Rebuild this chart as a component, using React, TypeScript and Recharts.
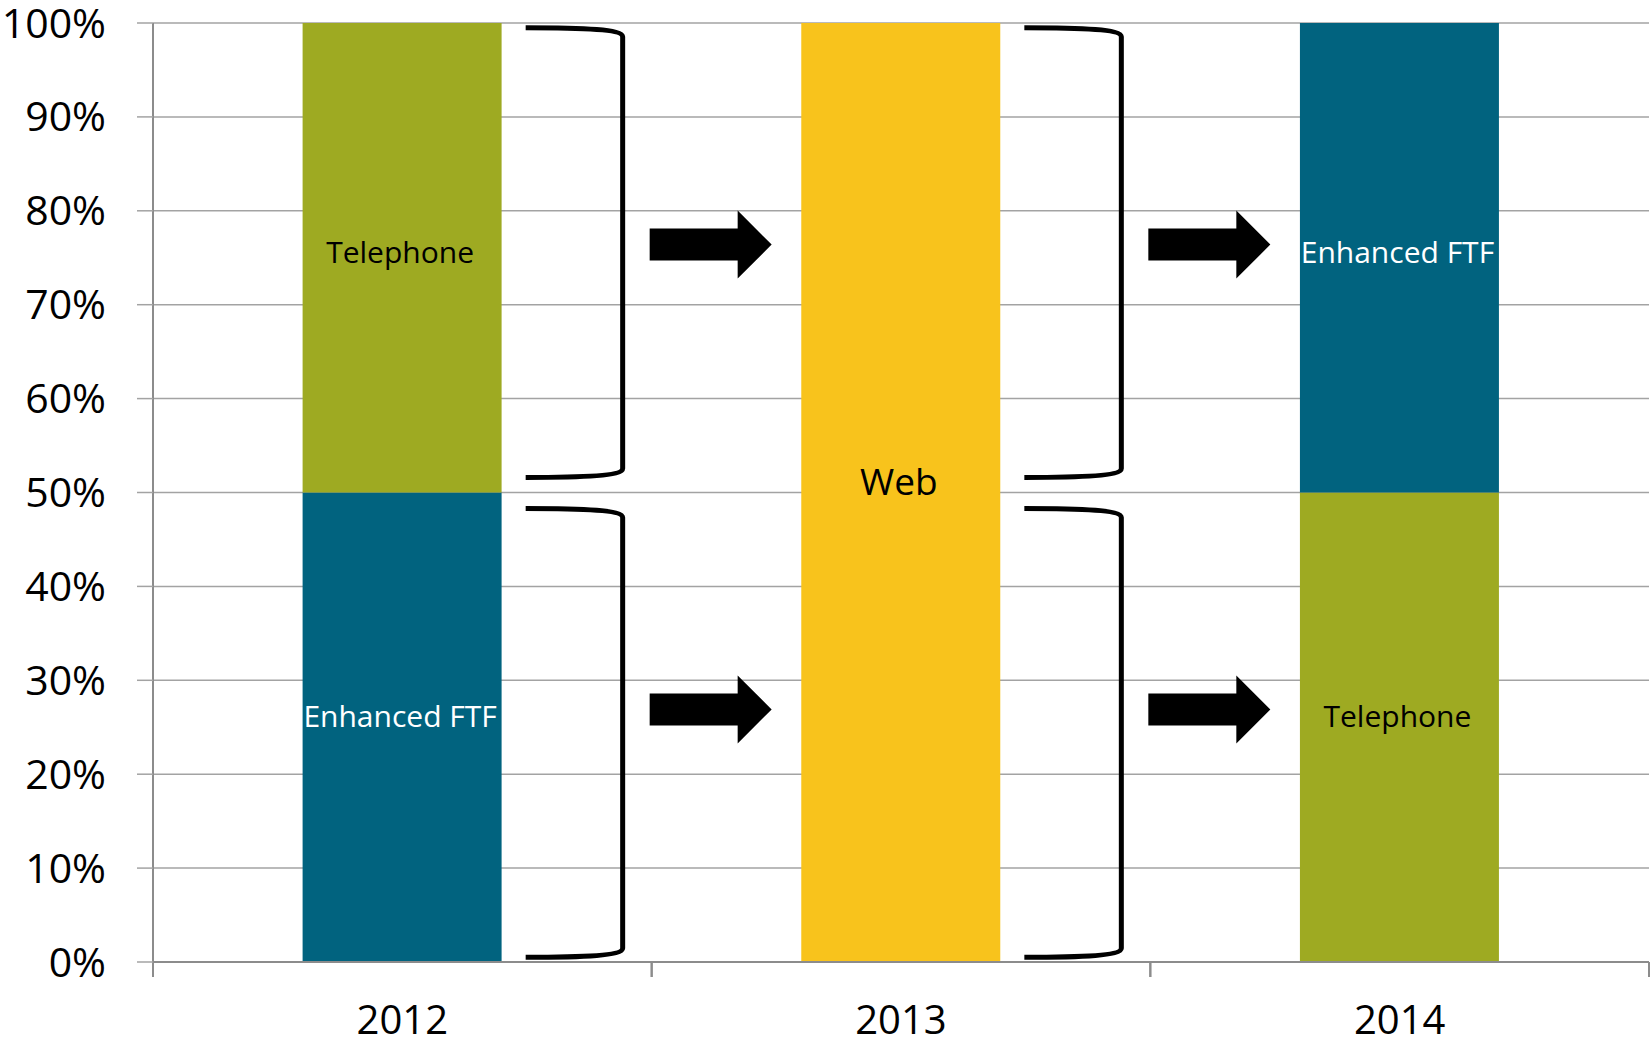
import { BarChart, Bar, XAxis, YAxis, CartesianGrid, Cell, LabelList, ReferenceArea } from "recharts";

const years = ["2012", "2013", "2014"];
const lowerMode = ["Enhanced FTF", "Web", "Telephone"];
const lowerShare = [50, 100, 50];
const upperMode = ["Telephone", "", "Enhanced FTF"];
const upperShare = [50, 0, 50];
const yTicks = [0, 10, 20, 30, 40, 50, 60, 70, 80, 90, 100];

// years followed by a bracket + arrow pointing at the next year
const transitionYears = ["2012", "2013"];
const bracketSpans = [
  [51.6, 99.5],
  [0.5, 48.3],
];
const arrowLevels = [76.4, 26.9];

const modeColor: Record<string, string> = {
  Telephone: "#9EAA22",
  "Enhanced FTF": "#01637F",
  Web: "#F8C31C",
};
const modeTextColor: Record<string, string> = {
  Telephone: "#000000",
  "Enhanced FTF": "#FFFFFF",
  Web: "#000000",
};

const data = years.map((year, i) => ({
  year,
  lower: lowerShare[i],
  upper: upperShare[i],
  lowerMode: lowerMode[i],
  upperMode: upperMode[i],
}));

const makeLabel = (lift: number) => (props: any) => {
  const { x, y, width, height, value } = props;
  if (!value || !height) return null;
  return (
    <text
      x={x + width / 2 - 2}
      y={y + height / 2 - lift}
      textAnchor="middle"
      dominantBaseline="central"
      fontSize={value === "Web" ? 37 : 30}
      fill={modeTextColor[value]}
    >
      {value}
    </text>
  );
};

const Bracket = (props: any) => {
  const { x, y, width, height } = props;
  const right = x + width;
  const xv = right - 29;
  const x0 = right - 126;
  const top = y;
  const bottom = y + height;
  const d = `M ${x0} ${top} C ${x0 + 60} ${top} ${xv} ${top + 2} ${xv} ${top + 9} L ${xv} ${bottom - 9} C ${xv} ${bottom - 2} ${x0 + 60} ${bottom} ${x0} ${bottom}`;
  return <path d={d} fill="none" stroke="#000" strokeWidth={5} strokeLinejoin="round" />;
};

const Arrow = (props: any) => {
  const { x, y, width, height } = props;
  const start = x + width - 2;
  const cy = y + height / 2;
  const d = `M ${start} ${cy - 16} L ${start + 88} ${cy - 16} L ${start + 88} ${cy - 34} L ${start + 122} ${cy} L ${start + 88} ${cy + 34} L ${start + 88} ${cy + 16} L ${start} ${cy + 16} Z`;
  return <path d={d} fill="#000" />;
};

const BoundaryTicks = (props: any) => {
  const { x, y, width, height } = props;
  const base = y + height;
  return (
    <g stroke="#8C8C8C" strokeWidth={2}>
      <line x1={x} y1={base} x2={x} y2={base + 15} />
      <line x1={x + width} y1={base} x2={x + width} y2={base + 15} />
    </g>
  );
};

export default function App() {
  return (
    <div
      style={{
        position: "absolute",
        left: 0,
        top: 0,
        width: 1652,
        height: 1046,
        background: "#fff",
        fontFamily: "'Open Sans', 'Noto Sans', sans-serif",
      }}
    >
      <BarChart
        width={1652}
        height={1046}
        data={data}
        margin={{ top: 23, right: 3, bottom: 0, left: 0 }}
        barCategoryGap="30%"
      >
        <CartesianGrid vertical={false} stroke="#A3A3A3" strokeWidth={1.5} />
        <XAxis
          dataKey="year"
          height={84}
          interval={0}
          tickLine={false}
          tickSize={0}
          tickMargin={44}
          axisLine={{ stroke: "#8C8C8C", strokeWidth: 2 }}
          tick={{ fontSize: 40, fill: "#000" }}
        />
        <YAxis
          width={153}
          domain={[0, 100]}
          ticks={yTicks}
          interval={0}
          tickFormatter={(v) => `${v}%`}
          tickSize={16}
          tickMargin={31}
          tickLine={{ stroke: "#A3A3A3", strokeWidth: 1.5 }}
          axisLine={{ stroke: "#8C8C8C", strokeWidth: 2 }}
          tick={{ fontSize: 41, fill: "#000" }}
        />
        <Bar dataKey="lower" stackId="mode" isAnimationActive={false}>
          {data.map((d, i) => (
            <Cell key={`lo-${i}`} fill={modeColor[d.lowerMode]} />
          ))}
          <LabelList dataKey="lowerMode" content={makeLabel(12)} />
        </Bar>
        <Bar dataKey="upper" stackId="mode" isAnimationActive={false}>
          {data.map((d, i) => (
            <Cell key={`up-${i}`} fill={modeColor[d.upperMode] || "transparent"} />
          ))}
          <LabelList dataKey="upperMode" content={makeLabel(6)} />
        </Bar>
        {years.map((year) => (
          <ReferenceArea
            key={`tick-${year}`}
            x1={year}
            x2={year}
            y1={0}
            y2={100}
            ifOverflow="visible"
            shape={BoundaryTicks}
          />
        ))}
        {transitionYears.map((year) =>
          bracketSpans.map(([lo, hi], j) => (
            <ReferenceArea
              key={`br-${year}-${j}`}
              x1={year}
              x2={year}
              y1={lo}
              y2={hi}
              ifOverflow="visible"
              shape={Bracket}
            />
          ))
        )}
        {transitionYears.map((year) =>
          arrowLevels.map((level, j) => (
            <ReferenceArea
              key={`ar-${year}-${j}`}
              x1={year}
              x2={year}
              y1={level - 1}
              y2={level + 1}
              ifOverflow="visible"
              shape={Arrow}
            />
          ))
        )}
      </BarChart>
    </div>
  );
}
